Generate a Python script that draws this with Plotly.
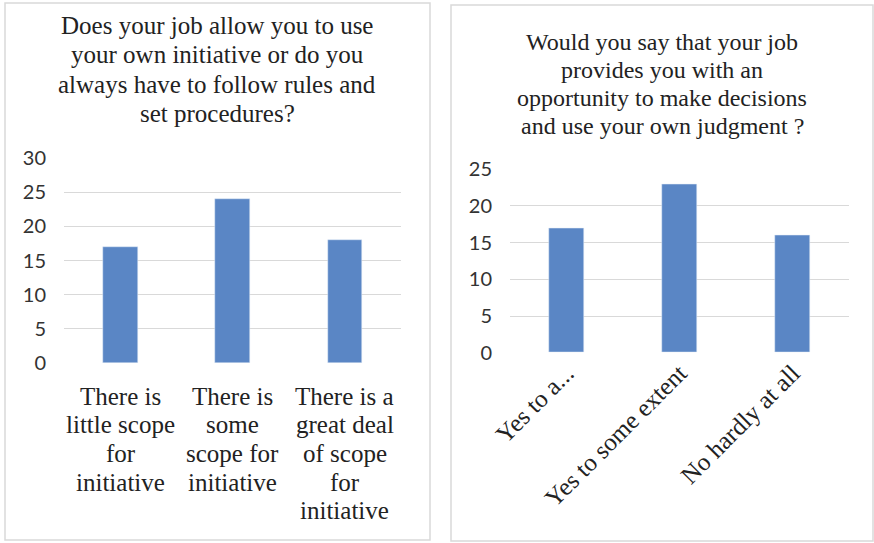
import plotly.graph_objects as go

# ---- data ----
left_title = ["Does your job allow you to use", "your own initiative or do you",
              "always have to follow rules and", "set procedures?"]
left_categories = ["There is little scope for initiative",
                   "There is some scope for initiative",
                   "There is a great deal of scope for initiative"]
left_label_lines = [["There is", "little scope", "for", "initiative"],
                    ["There is", "some", "scope for", "initiative"],
                    ["There is a", "great deal", "of scope", "for", "initiative"]]
left_values = [17, 24, 18]
left_ticks = [0, 5, 10, 15, 20, 25, 30]

right_title = ["Would you say that your job", "provides you with an",
               "opportunity to make decisions", "and use your own judgment ?"]
right_categories = ["Yes to a...", "Yes to some extent", "No hardly at all"]
right_values = [17, 23, 16]
right_ticks = [0, 5, 10, 15, 20, 25]

W, H = 874, 543
BAR = "#5A86C5"
GRID = "#D9D9D9"
SERIF = "Liberation Serif"
SANS = "Lato"

def px(xp):
    return xp / W

def py(yp):
    return (H - yp) / H

fig = go.Figure()
fig.add_trace(go.Bar(x=left_categories, y=left_values, marker_color=BAR,
                     width=0.31, xaxis="x", yaxis="y", showlegend=False))
fig.add_trace(go.Bar(x=right_categories, y=right_values, marker_color=BAR,
                     width=0.31, xaxis="x2", yaxis="y2", showlegend=False))

ytick_font = dict(family=SANS, size=20, color="#333333")
fig.update_layout(
    width=W, height=H, margin=dict(l=0, r=0, t=0, b=0, autoexpand=False),
    paper_bgcolor="white", plot_bgcolor="white",
    xaxis=dict(domain=[px(64), px(401)], showticklabels=False, showgrid=False,
               zeroline=False, showline=False, ticks="", automargin=False),
    yaxis=dict(domain=[py(363), py(158)], range=[0, 30], tickvals=left_ticks,
               showgrid=True, gridcolor=GRID, gridwidth=1.3, zeroline=False,
               showline=False, tickfont=ytick_font, ticklabelstandoff=17,
               automargin=False),
    xaxis2=dict(domain=[px(510), px(849)], showgrid=False, zeroline=False,
                showline=False, ticks="", tickangle=-45,
                tickfont=dict(family=SERIF, size=25, color="#222222"),
                anchor="y2", automargin=False),
    yaxis2=dict(domain=[py(352.7), py(169.3)], range=[0, 25], tickvals=right_ticks,
                showgrid=True, gridcolor=GRID, gridwidth=1.3, zeroline=False,
                showline=False, tickfont=ytick_font, ticklabelstandoff=17,
                anchor="x2", automargin=False),
    bargap=0.0,
)

annotations = []
# titles, line by line
for i, line in enumerate(left_title):
    annotations.append(dict(text=line, x=px(217), y=py(26 + i * 29), xref="paper",
                            yref="paper", showarrow=False, xanchor="center",
                            yanchor="middle",
                            font=dict(family=SERIF, size=25, color="#222222")))
for i, line in enumerate(right_title):
    annotations.append(dict(text=line, x=px(662), y=py(42 + i * 28), xref="paper",
                            yref="paper", showarrow=False, xanchor="center",
                            yanchor="middle",
                            font=dict(family=SERIF, size=24, color="#222222")))
# left category labels, line by line
for cat, lines in zip(left_categories, left_label_lines):
    for j, line in enumerate(lines):
        annotations.append(dict(text=line, x=cat, y=py(396 + j * 28.7), xref="x",
                                yref="paper", showarrow=False, xanchor="center",
                                yanchor="middle",
                                font=dict(family=SERIF, size=25, color="#222222")))
fig.update_layout(annotations=annotations)

# panel borders
fig.add_shape(type="rect", xref="paper", yref="paper", x0=px(5), x1=px(430),
              y0=py(540), y1=py(3), line=dict(color=GRID, width=1.5))
fig.add_shape(type="rect", xref="paper", yref="paper", x0=px(451), x1=px(873),
              y0=py(541), y1=py(5), line=dict(color=GRID, width=1.5))

fig.write_html("out.html")
